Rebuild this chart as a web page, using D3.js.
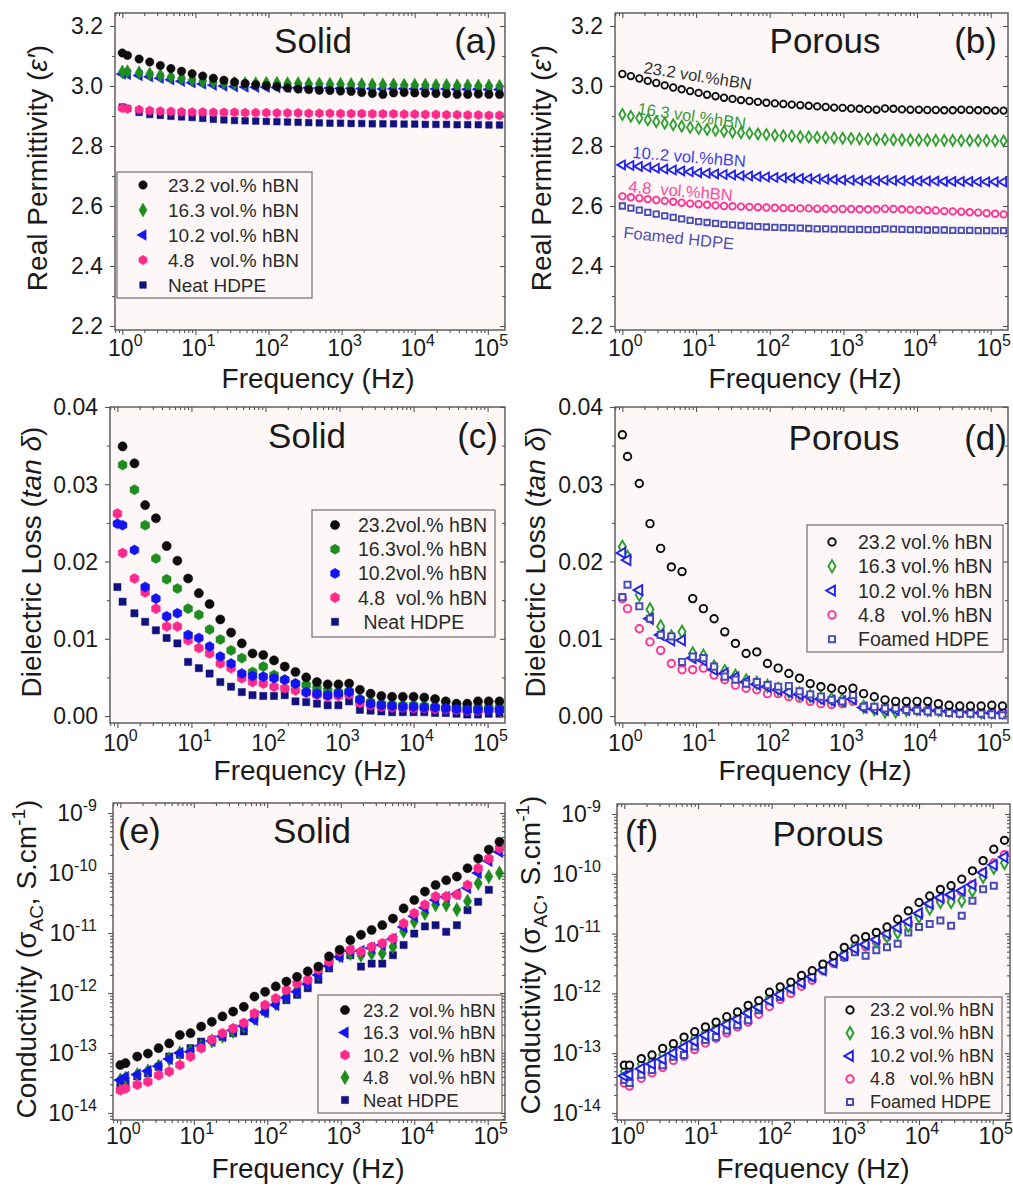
<!DOCTYPE html>
<html>
<head>
<meta charset="utf-8">
<script src="https://cdn.jsdelivr.net/npm/d3@7"></script>
<style>
  body { margin: 0; background: #fff; }
  svg { display: block; }
  text { font-family: "Liberation Sans", Arial, sans-serif; fill: #1a1a1a; }
</style>
</head>
<body>
<div id="chart"></div>
<script>
// -------------------- DATA --------------------

// measurement frequencies (Hz)
const freqs = [1, 1.175, 1.698, 2.371, 3.311, 4.624, 6.457, 9.016, 12.59, 17.58,
  24.55, 34.28, 47.86, 66.83, 93.33, 130.3, 182.0, 254.1, 354.8, 495.5,
  691.8, 966.1, 1349, 1884, 2630, 3673, 5129, 7161, 10000, 13960,
  19500, 27230, 38020, 53090, 74130, 103500, 144500];
// denser sweep used for panel (b)
const freqsB = [1, 1.303, 1.698, 2.213, 2.884, 3.758, 4.898, 6.383, 8.318, 10.84,
  14.13, 18.41, 23.99, 31.26, 40.74, 53.09, 69.18, 90.16, 117.5, 153.1,
  199.5, 260.0, 338.8, 441.6, 575.4, 749.9, 977.2, 1274, 1660, 2163,
  2818, 3673, 4786, 6237, 8128, 10590, 13800, 17990, 23440, 30550,
  39810, 51880, 67610, 88100, 114800, 149600];

// tick labels
const freqTickExps = [0, 1, 2, 3, 4, 5];
const permTicks = [2.2, 2.4, 2.6, 2.8, 3.0, 3.2];
const lossTicks = [0.00, 0.01, 0.02, 0.03, 0.04];
const condTickExps = [-14, -13, -12, -11, -10, -9];

// (a) real permittivity, solid
const permSolid232 = [3.110, 3.102, 3.090, 3.080, 3.068, 3.058, 3.049, 3.041, 3.033, 3.026,
  3.019, 3.013, 3.008, 3.004, 3.001, 2.998, 2.993, 2.990, 2.988, 2.986,
  2.985, 2.983, 2.982, 2.978, 2.975, 2.972, 2.977, 2.978, 2.977, 2.976,
  2.975, 2.974, 2.972, 2.972, 2.973, 2.972, 2.972];
const permSolid163 = [3.047, 3.048, 3.044, 3.040, 3.035, 3.030, 3.025, 3.020, 3.016, 3.013,
  3.011, 3.009, 3.008, 3.008, 3.009, 3.009, 3.008, 3.008, 3.007, 3.007,
  3.006, 3.006, 3.005, 3.005, 3.004, 3.004, 3.004, 3.003, 3.003, 3.003,
  3.002, 3.002, 3.001, 3.001, 3.000, 3.000, 2.999];
const permSolid102 = [3.040, 3.039, 3.035, 3.031, 3.026, 3.021, 3.016, 3.011, 3.007, 3.003,
  3.000, 2.998, 2.997, 2.996, 2.996, 2.995, 2.995, 2.994, 2.994, 2.993,
  2.993, 2.992, 2.992, 2.991, 2.991, 2.990, 2.991, 2.991, 2.990, 2.990,
  2.990, 2.990, 2.989, 2.989, 2.989, 2.988, 2.988];
const permSolid48 = [2.926, 2.924, 2.921, 2.918, 2.916, 2.915, 2.914, 2.913, 2.913, 2.912,
  2.912, 2.912, 2.911, 2.911, 2.911, 2.910, 2.910, 2.910, 2.909, 2.909,
  2.909, 2.908, 2.908, 2.908, 2.907, 2.907, 2.907, 2.906, 2.906, 2.905,
  2.905, 2.904, 2.904, 2.903, 2.903, 2.902, 2.902];
const permSolidNeat = [2.930, 2.925, 2.912, 2.905, 2.902, 2.899, 2.897, 2.895, 2.892, 2.889,
  2.887, 2.885, 2.884, 2.883, 2.882, 2.881, 2.880, 2.879, 2.878, 2.877,
  2.876, 2.876, 2.875, 2.875, 2.874, 2.874, 2.874, 2.873, 2.873, 2.872,
  2.872, 2.872, 2.871, 2.871, 2.871, 2.870, 2.870];

// (b) real permittivity, porous
const permPorous232 = [3.040, 3.033, 3.025, 3.017, 3.010, 3.002, 2.995, 2.989, 2.983, 2.977,
  2.971, 2.966, 2.961, 2.957, 2.953, 2.950, 2.947, 2.944, 2.942, 2.940,
  2.938, 2.936, 2.934, 2.932, 2.930, 2.928, 2.927, 2.925, 2.924, 2.922,
  2.921, 2.925, 2.924, 2.922, 2.921, 2.921, 2.920, 2.920, 2.919, 2.919,
  2.921, 2.920, 2.919, 2.919, 2.918, 2.918];
const permPorous163 = [2.905, 2.899, 2.893, 2.887, 2.881, 2.876, 2.871, 2.866, 2.862, 2.858,
  2.855, 2.852, 2.849, 2.846, 2.844, 2.842, 2.840, 2.838, 2.836, 2.834,
  2.833, 2.831, 2.830, 2.829, 2.828, 2.827, 2.826, 2.825, 2.824, 2.823,
  2.822, 2.822, 2.821, 2.821, 2.820, 2.820, 2.820, 2.819, 2.819, 2.819,
  2.818, 2.818, 2.818, 2.818, 2.817, 2.817];
const permPorous102 = [2.737, 2.735, 2.732, 2.729, 2.726, 2.723, 2.720, 2.717, 2.714, 2.711,
  2.709, 2.707, 2.705, 2.703, 2.701, 2.700, 2.698, 2.697, 2.695, 2.694,
  2.693, 2.692, 2.691, 2.690, 2.689, 2.688, 2.687, 2.686, 2.685, 2.685,
  2.684, 2.686, 2.685, 2.684, 2.684, 2.683, 2.683, 2.683, 2.682, 2.682,
  2.682, 2.682, 2.681, 2.681, 2.681, 2.680];
const permPorous48 = [2.632, 2.629, 2.626, 2.623, 2.620, 2.617, 2.614, 2.611, 2.608, 2.606,
  2.604, 2.602, 2.600, 2.599, 2.598, 2.597, 2.596, 2.595, 2.594, 2.593,
  2.593, 2.592, 2.592, 2.591, 2.591, 2.590, 2.590, 2.590, 2.589, 2.589,
  2.589, 2.591, 2.590, 2.589, 2.588, 2.587, 2.586, 2.585, 2.583, 2.582,
  2.581, 2.579, 2.578, 2.576, 2.574, 2.572];
const permPorousFoam = [2.600, 2.593, 2.586, 2.579, 2.573, 2.567, 2.562, 2.557, 2.552, 2.548,
  2.545, 2.542, 2.539, 2.537, 2.535, 2.533, 2.531, 2.530, 2.529, 2.528,
  2.527, 2.526, 2.525, 2.524, 2.524, 2.523, 2.523, 2.522, 2.522, 2.521,
  2.521, 2.524, 2.523, 2.522, 2.521, 2.521, 2.520, 2.520, 2.520, 2.519,
  2.519, 2.519, 2.518, 2.518, 2.518, 2.518];

// (c) dielectric loss, solid
const lossSolid232 = [null, .0349, .0327, .0273, .0256, .0220, .0201, .0178, .0159, .0145,
  .0125, .0108, .0094, .0081, .0079, .0072, .0064, .0057, .0050, .0044,
  .0041, .0041, .0042, .0034, .0029, .0026, .0025, .0025, .0025, .0024,
  .0022, .0019, .0016, .0016, .0019, .0019, .0019];
const lossSolid163 = [null, .0325, .0293, .0247, .0204, .0177, .0165, .0139, .0131, .0112,
  .0099, .0085, .0075, .0057, .0064, .0053, .0047, .0042, .0040, .0036,
  .0033, .0031, .0032, .0022, .0018, .0016, .0015, .0014, .0014, .0013,
  .0012, .0011, .0010, .0010, .0011, .0011, .0011];
const lossSolid102 = [.0249, .0247, .0215, .0167, .0152, .0129, .0133, .0105, .0101, .0090,
  .0077, .0068, .0055, .0052, .0051, .0049, .0047, .0042, .0031, .0029,
  .0027, .0029, .0031, .0021, .0016, .0014, .0013, .0012, .0012, .0011,
  .0011, .0010, .0009, .0008, .0008, .0008, .0008];
const lossSolid48 = [.0262, .0211, .0178, .0160, .0139, .0116, .0116, .0098, .0088, .0081,
  .0068, .0062, .0049, .0044, .0042, .0038, .0036, .0033, .0030, .0027,
  .0025, .0026, .0028, .0017, .0014, .0012, .0011, .0011, .0010, .0010,
  .0009, .0009, .0008, .0007, .0007, .0008, .0008];
const lossSolidNeat = [.0167, .0148, .0133, .0122, .0111, .0101, .0094, .0070, .0062, .0055,
  .0044, .0038, .0031, .0027, .0026, .0026, .0027, .0019, .0018, .0016,
  .0014, .0014, .0019, .0008, .0007, .0006, .0005, .0005, .0005, .0005,
  .0004, .0004, .0003, .0002, .0002, .0003, .0003];

// (d) dielectric loss, porous
const lossPorous232 = [.0364, .0336, .0301, .0249, .0217, .0193, .0187, .0152, .0139, .0126,
  .0109, .0094, .0081, .0083, .0068, .0062, .0055, .0049, .0042, .0038,
  .0036, .0034, .0036, .0029, .0025, .0021, .0019, .0019, .0019, .0019,
  .0016, .0014, .0013, .0013, .0013, .0014, .0013];
const lossPorous163 = [.0219, .0206, .0157, .0138, .0116, .0103, .0109, .0081, .0078, .0064,
  .0058, .0052, .0046, .0043, .0039, .0035, .0032, .0029, .0026, .0024,
  .0022, .0021, .0024, .0012, .0009, .0006, .0006, .0008, .0009, .0008,
  .0008, .0007, .0006, .0006, .0005, .0005, .0005];
const lossPorous102 = [.0211, .0202, .0163, .0126, .0105, .0098, .0098, .0075, .0072, .0060,
  .0055, .0050, .0044, .0041, .0038, .0034, .0031, .0028, .0025, .0022,
  .0020, .0019, .0022, .0011, .0009, .0008, .0008, .0008, .0008, .0007,
  .0007, .0006, .0006, .0005, .0004, .0004, .0004];
const lossPorous48 = [.0152, .0139, .0113, .0096, .0085, .0068, .0060, .0060, .0062, .0053,
  .0047, .0040, .0036, .0034, .0029, .0029, .0025, .0023, .0019, .0016,
  .0015, .0016, .0019, .0012, .0010, .0009, .0008, .0009, .0009, .0008,
  .0008, .0007, .0006, .0006, .0006, .0005, .0005];
const lossPorousFoam = [.0154, .0170, .0142, .0126, .0105, .0103, .0070, .0077, .0075, .0064,
  .0051, .0047, .0042, .0044, .0040, .0038, .0039, .0032, .0028, .0025,
  .0021, .0019, .0027, .0012, .0012, .0010, .0010, .0008, .0007, .0006,
  .0006, .0004, .0003, .0003, .0003, .0002, .0001];

// (e) AC conductivity, solid: log10 of sigma_AC in S/cm
const condSolid232 = [-13.20, -13.17, -13.06, -13.01, -12.92, -12.84, -12.70, -12.67, -12.56, -12.48,
  -12.39, -12.31, -12.23, -12.06, -11.98, -11.89, -11.81, -11.73, -11.64, -11.56,
  -11.39, -11.28, -11.12, -11.03, -10.95, -10.87, -10.76, -10.59, -10.45, -10.31,
  -10.20, -10.12, -10.06, -9.92, -9.76, -9.61, -9.48];
const condSolid163 = [-13.45, -13.40, -13.36, -13.30, -13.22, -13.10, -13.00, -12.98, -12.88, -12.80,
  -12.72, -12.62, -12.55, -12.45, -12.32, -12.20, -12.08, -11.98, -11.85, -11.70,
  -11.55, -11.40, -11.30, -11.30, -11.25, -11.20, -11.10, -10.90, -10.72, -10.58,
  -10.45, -10.40, -10.35, -10.25, -10.00, -9.80, -9.65];
const condSolid102 = [-13.62, -13.59, -13.53, -13.48, -13.37, -13.31, -13.20, -13.06, -12.92, -12.78,
  -12.67, -12.59, -12.50, -12.34, -12.20, -12.09, -11.95, -11.84, -11.78, -11.61,
  -11.48, -11.31, -11.28, -11.31, -11.23, -11.17, -11.09, -10.84, -10.67, -10.53,
  -10.39, -10.39, -10.36, -10.20, -9.92, -9.76, -9.59];
const condSolid48 = [-13.45, -13.42, -13.36, -13.30, -13.22, -13.10, -13.00, -12.97, -12.88, -12.80,
  -12.72, -12.64, -12.55, -12.42, -12.30, -12.18, -12.05, -11.95, -11.82, -11.68,
  -11.52, -11.38, -11.34, -11.37, -11.34, -11.34, -11.23, -10.97, -10.81, -10.67,
  -10.53, -10.53, -10.61, -10.47, -10.17, -10.06, -10.00];
const condSolidNeat = [-13.53, -13.50, -13.39, -13.34, -13.23, -13.06, -13.03, -12.92, -12.81, -12.78,
  -12.73, -12.67, -12.64, -12.42, -12.31, -12.14, -12.12, -12.03, -11.92, -11.78,
  -11.59, -11.39, -11.37, -11.56, -11.51, -11.51, -11.37, -11.20, -11.01, -10.89,
  -10.87, -10.98, -10.87, -10.62, -10.48, -10.28, null];

// (f) AC conductivity, porous: log10 of sigma_AC in S/cm
const condPorous232 = [-13.20, -13.20, -13.09, -13.03, -12.92, -12.84, -12.73, -12.64, -12.56, -12.48,
  -12.39, -12.31, -12.20, -12.12, -11.98, -11.89, -11.81, -11.70, -11.62, -11.51,
  -11.37, -11.23, -11.09, -11.05, -10.98, -10.89, -10.76, -10.62, -10.48, -10.37,
  -10.26, -10.20, -10.09, -9.95, -9.78, -9.59, -9.44];
const condPorous163 = [-13.30, -13.28, -13.18, -13.12, -13.02, -12.94, -12.83, -12.74, -12.65, -12.56,
  -12.47, -12.39, -12.29, -12.20, -12.07, -11.97, -11.88, -11.78, -11.69, -11.58,
  -11.45, -11.32, -11.20, -11.17, -11.12, -11.05, -10.98, -10.87, -10.72, -10.58,
  -10.47, -10.47, -10.45, -10.28, -10.05, -9.90, -9.82];
const condPorous102 = [-13.38, -13.36, -13.26, -13.18, -13.10, -13.00, -12.90, -12.80, -12.70, -12.61,
  -12.52, -12.43, -12.33, -12.23, -12.12, -12.02, -11.92, -11.82, -11.72, -11.61,
  -11.48, -11.36, -11.25, -11.18, -11.10, -11.00, -10.90, -10.80, -10.66, -10.50,
  -10.40, -10.35, -10.28, -10.18, -9.98, -9.85, -9.72];
const condPorous48 = [-13.50, -13.55, -13.42, -13.33, -13.24, -13.12, -13.05, -12.94, -12.83, -12.75,
  -12.66, -12.56, -12.48, -12.35, -12.22, -12.10, -12.00, -11.88, -11.78, -11.62,
  -11.50, -11.40, -11.28, -11.22, -11.14, -11.05, -10.95, -10.82, -10.68, -10.55,
  -10.45, -10.38, -10.30, -10.18, -9.98, -9.82, -9.68];
const condPorousFoam = [-13.45, -13.50, -13.36, -13.28, -13.20, -13.06, -13.03, -12.89, -12.78, -12.73,
  -12.62, -12.53, -12.45, -12.28, -12.12, -12.06, -11.92, -11.81, -11.73, -11.56,
  -11.45, -11.39, -11.31, -11.37, -11.28, -11.23, -11.17, -10.98, -10.89, -10.84,
  -10.78, -10.87, -10.70, -10.45, -10.26, -10.20, null];

// -------------------- STYLE --------------------

const W = 1013, H = 1186;
const BG = "#fdf8f7";
const AXIS = "#555";
const C = { black: "#0d0d0d", green: "#1f8c1f", blue: "#1414f0", pink: "#ff2a8c", navy: "#12127e",
            ogreen: "#2e9e2e", oblue: "#2222ee", opink: "#ff3294", onavy: "#4a4ab6" };

// custom marker shapes
const symHex = { draw(ctx, size) {
  const r = Math.sqrt(size * 2 / (3 * Math.sqrt(3)));
  for (let k = 0; k < 6; k++) {
    const a = Math.PI / 3 * k + Math.PI / 6;
    k ? ctx.lineTo(r * Math.cos(a), r * Math.sin(a)) : ctx.moveTo(r * Math.cos(a), r * Math.sin(a));
  }
  ctx.closePath();
}};
const symLeftTri = { draw(ctx, size) {
  const s = Math.sqrt(size * 4 / Math.sqrt(3)), h = s * Math.sqrt(3) / 2;
  ctx.moveTo(-h * 2 / 3, 0); ctx.lineTo(h / 3, -s / 2); ctx.lineTo(h / 3, s / 2); ctx.closePath();
}};

const filled = (color, shape, size) => ({ fill: color, stroke: color, sw: 0.5, shape, size });
const open = (color, shape, size, sw = 1.9) => ({ fill: "#f3f6f1", stroke: color, sw, shape, size });

const xLogDomain = [Math.pow(10, -0.1), Math.pow(10, 5.235)];

const panels = [
  { left: 115, right: 505, top: 13, bottom: 330, yType: "perm", yDomain: [2.1867, 3.2433],
    ylab: { x: 47, y: 168 }, xlab: { x: 318, y: 388 }, xtOff: 26,
    title: { text: "Solid", x: 313, y: 53 }, tag: { text: "(a)", x: 497, y: 53, anchor: "end" },
    legend: { x: 117, y: 172, w: 195, h: 126, row0: 185, dy: 25, mx: 143, tx: 168, fs: 19 },
    order: [4, 3, 2, 1, 0],
    series: [
      { label: "23.2 vol.% hBN", f: freqs, v: permSolid232, ...filled(C.black, d3.symbolCircle, 56) },
      { label: "16.3 vol.% hBN", f: freqs, v: permSolid163, ...filled(C.green, d3.symbolDiamond, 56) },
      { label: "10.2 vol.% hBN", f: freqs, v: permSolid102, ...filled(C.blue, symLeftTri, 50) },
      { label: "4.8   vol.% hBN", f: freqs, v: permSolid48, ...filled(C.pink, symHex, 56) },
      { label: "Neat HDPE", f: freqs, v: permSolidNeat, ...filled(C.navy, d3.symbolSquare, 44) } ] },
  { left: 615, right: 1008, top: 13, bottom: 330, yType: "perm", yDomain: [2.1867, 3.2433],
    ylab: { x: 551, y: 168 }, xlab: { x: 805, y: 388 }, xtOff: 26,
    title: { text: "Porous", x: 825, y: 53 }, tag: { text: "(b)", x: 997, y: 53, anchor: "end" },
    order: [4, 3, 2, 1, 0],
    inline: [
      { text: "23.2 vol.%hBN", x: 643, y: 73, rot: 9, color: "#333" },
      { text: "16.3 vol.%hBN", x: 637, y: 114, rot: 8, color: "#3a9a3a" },
      { text: "10..2 vol.%hBN", x: 632, y: 158, rot: 4.5, color: "#4040e6" },
      { text: "4.8  vol.%hBN", x: 628, y: 192, rot: 5, color: "#ff4a9c" },
      { text: "Foamed HDPE", x: 623, y: 238, rot: 6, color: "#5050b4" } ],
    series: [
      { f: freqsB, v: permPorous232, ...open(C.black, d3.symbolCircle, 34, 1.8) },
      { f: freqsB, v: permPorous163, ...open(C.ogreen, d3.symbolDiamond, 34, 1.8) },
      { f: freqsB, v: permPorous102, ...open(C.oblue, symLeftTri, 34, 1.8) },
      { f: freqsB, v: permPorous48, ...open(C.opink, d3.symbolCircle, 34, 1.8) },
      { f: freqsB, v: permPorousFoam, ...open(C.onavy, d3.symbolSquare, 30, 1.8) } ] },
  { left: 110, right: 505, top: 407, bottom: 723, yType: "loss", yDomain: [-0.0009, 0.04],
    ylab: { x: 41, y: 562 }, xlab: { x: 310, y: 780 }, xtOff: 28,
    title: { text: "Solid", x: 307, y: 448 }, tag: { text: "(c)", x: 498, y: 448, anchor: "end" },
    legend: { x: 312, y: 510, w: 183, h: 127, row0: 525, dy: 24.2, mx: 335, tx: 358, fs: 19.5 },
    order: [4, 3, 1, 0, 2],
    series: [
      { label: "23.2vol.% hBN", f: freqs, v: lossSolid232, ...filled(C.black, d3.symbolCircle, 66) },
      { label: "16.3vol.% hBN", f: freqs, v: lossSolid163, ...filled(C.green, symHex, 66) },
      { label: "10.2vol.% hBN", f: freqs, v: lossSolid102, ...filled(C.blue, symHex, 66) },
      { label: "4.8  vol.% hBN", f: freqs, v: lossSolid48, ...filled(C.pink, symHex, 66) },
      { label: " Neat HDPE", f: freqs, v: lossSolidNeat, ...filled(C.navy, d3.symbolSquare, 52) } ] },
  { left: 615, right: 1008, top: 407, bottom: 723, yType: "loss", yDomain: [-0.0009, 0.04],
    ylab: { x: 545, y: 562 }, xlab: { x: 815, y: 780 }, xtOff: 28,
    title: { text: "Porous", x: 844, y: 450 }, tag: { text: "(d)", x: 1007, y: 450, anchor: "end" },
    legend: { x: 807, y: 525, w: 196, h: 127, row0: 542, dy: 24.3, mx: 832, tx: 858, fs: 19.5 },
    order: [3, 1, 2, 4, 0],
    series: [
      { label: "23.2 vol.% hBN", f: freqs, v: lossPorous232, ...open(C.black, d3.symbolCircle, 44) },
      { label: "16.3 vol.% hBN", f: freqs, v: lossPorous163, ...open(C.ogreen, d3.symbolDiamond, 44) },
      { label: "10.2 vol.% hBN", f: freqs, v: lossPorous102, ...open(C.oblue, symLeftTri, 44) },
      { label: "4.8   vol.% hBN", f: freqs, v: lossPorous48, ...open(C.opink, d3.symbolCircle, 44) },
      { label: "Foamed HDPE", f: freqs, v: lossPorousFoam, ...open(C.onavy, d3.symbolSquare, 38) } ] },
  { left: 113, right: 505, top: 803, bottom: 1120, yType: "cond", yDomain: [Math.pow(10, -14.117), Math.pow(10, -8.833)],
    ylab: { x: 36, y: 959 }, xlab: { x: 308, y: 1178 }, xtOff: 24,
    title: { text: "Solid", x: 312, y: 843 }, tag: { text: "(e)", x: 118, y: 843, anchor: "start" },
    legend: { x: 318, y: 995, w: 184, h: 118, row0: 1010, dy: 22.5, mx: 345, tx: 363, fs: 18.5 },
    order: [4, 3, 1, 2, 0],
    series: [
      { label: "23.2  vol.% hBN", f: freqs, v: condSolid232, ...filled(C.black, d3.symbolCircle, 66) },
      { label: "16.3  vol.% hBN", f: freqs, v: condSolid163, ...filled(C.blue, symLeftTri, 56) },
      { label: "10.2  vol.% hBN", f: freqs, v: condSolid102, ...filled(C.pink, symHex, 66) },
      { label: "4.8    vol.% hBN", f: freqs, v: condSolid48, ...filled(C.green, d3.symbolDiamond, 60) },
      { label: "Neat HDPE", f: freqs, v: condSolidNeat, ...filled(C.navy, d3.symbolSquare, 52) } ] },
  { left: 617, right: 1010, top: 804, bottom: 1120, yType: "cond", yDomain: [Math.pow(10, -14.117), Math.pow(10, -8.833)],
    ylab: { x: 540, y: 955 }, xlab: { x: 813, y: 1178 }, xtOff: 24,
    title: { text: "Porous", x: 828, y: 846 }, tag: { text: "(f)", x: 625, y: 845, anchor: "start" },
    legend: { x: 825, y: 997, w: 177, h: 116, row0: 1010, dy: 23, mx: 850, tx: 870, fs: 18 },
    order: [3, 4, 1, 2, 0],
    series: [
      { label: "23.2 vol.% hBN", f: freqs, v: condPorous232, ...open(C.black, d3.symbolCircle, 42, 2) },
      { label: "16.3 vol.% hBN", f: freqs, v: condPorous163, ...open(C.ogreen, d3.symbolDiamond, 42, 2) },
      { label: "10.2 vol.% hBN", f: freqs, v: condPorous102, ...open(C.oblue, symLeftTri, 42, 2) },
      { label: "4.8   vol.% hBN", f: freqs, v: condPorous48, ...open(C.opink, d3.symbolCircle, 42, 2) },
      { label: "Foamed HDPE", f: freqs, v: condPorousFoam, ...open(C.onavy, d3.symbolSquare, 36, 2) } ] }
];

// -------------------- DRAWING --------------------

const svg = d3.select("#chart").append("svg")
  .attr("width", W).attr("height", H)
  .attr("viewBox", [0, 0, W, H]);

function styleMarker(sel, s) {
  sel.attr("fill", s.fill).attr("stroke", s.stroke).attr("stroke-width", s.sw);
}

function supLabel(text, base, exp, baseSize, supSize) {
  text.append("tspan").attr("font-size", baseSize).text(base);
  text.append("tspan").attr("font-size", supSize).attr("dy", -baseSize * 0.42).text(exp);
}

function drawPanel(p, idx) {
  const g = svg.append("g");
  const x = d3.scaleLog().domain(xLogDomain).range([p.left, p.right]);
  const y = (p.yType === "cond" ? d3.scaleLog() : d3.scaleLinear()).domain(p.yDomain).range([p.bottom, p.top]);
  const yv = p.yType === "cond" ? (v => y(Math.pow(10, v))) : (v => y(v));

  g.append("rect")
    .attr("x", p.left).attr("y", p.top)
    .attr("width", p.right - p.left).attr("height", p.bottom - p.top)
    .attr("fill", BG);

  const clipId = "clip" + idx;
  g.append("clipPath").attr("id", clipId).append("rect")
    .attr("x", p.left).attr("y", p.top)
    .attr("width", p.right - p.left).attr("height", p.bottom - p.top);

  // titles inside the frame
  g.append("text").attr("x", p.title.x).attr("y", p.title.y)
    .attr("text-anchor", "middle").attr("font-size", 35).text(p.title.text);
  g.append("text").attr("x", p.tag.x).attr("y", p.tag.y)
    .attr("text-anchor", p.tag.anchor).attr("font-size", 35).text(p.tag.text);

  // inline curve labels (panel b)
  if (p.inline) {
    g.selectAll("text.inl").data(p.inline).join("text")
      .attr("class", "inl")
      .attr("transform", d => `translate(${d.x},${d.y}) rotate(${d.rot})`)
      .attr("font-size", 16.5)
      .style("fill", d => d.color)
      .style("white-space", "pre")
      .text(d => d.text);
  }

  // markers
  const pg = g.append("g").attr("clip-path", `url(#${clipId})`);
  for (const si of p.order) {
    const s = p.series[si];
    const pts = s.v.map((v, i) => ({ f: s.f[i], v })).filter(d => d.v !== null);
    pg.append("g").selectAll("path").data(pts).join("path")
      .attr("transform", d => `translate(${x(d.f)},${yv(d.v)})`)
      .attr("d", d3.symbol(s.shape, s.size))
      .call(styleMarker, s);
  }

  // axes
  const xMajor = freqTickExps.map(e => Math.pow(10, e));
  const xMinor = [];
  for (let e = -1; e <= 5; e++) for (let m = 2; m <= 9; m++) {
    const v = m * Math.pow(10, e);
    if (v >= xLogDomain[0] && v <= xLogDomain[1]) xMinor.push(v);
  }
  let yMajor, yMinor;
  if (p.yType === "perm") { yMajor = permTicks; yMinor = [2.3, 2.5, 2.7, 2.9, 3.1]; }
  else if (p.yType === "loss") { yMajor = lossTicks; yMinor = [0.005, 0.015, 0.025, 0.035]; }
  else {
    yMajor = condTickExps.map(e => Math.pow(10, e));
    yMinor = [];
    for (let e = -15; e <= -9; e++) for (let m = 2; m <= 9; m++) {
      const v = m * Math.pow(10, e);
      if (v >= p.yDomain[0] && v <= p.yDomain[1]) yMinor.push(v);
    }
  }

  const axisStyle = a => a.call(s => s.select(".domain").remove())
    .call(s => s.selectAll("line").attr("stroke", AXIS).attr("stroke-width", 1.1));

  g.append("g").attr("transform", `translate(0,${p.bottom})`)
    .call(d3.axisBottom(x).tickValues(xMajor).tickSize(5).tickFormat("")).call(axisStyle);
  g.append("g").attr("transform", `translate(0,${p.bottom})`)
    .call(d3.axisBottom(x).tickValues(xMinor).tickSize(3).tickFormat("")).call(axisStyle);
  g.append("g").attr("transform", `translate(0,${p.top})`)
    .call(d3.axisTop(x).tickValues(xMajor).tickSize(-5).tickFormat("")).call(axisStyle);
  g.append("g").attr("transform", `translate(0,${p.top})`)
    .call(d3.axisTop(x).tickValues(xMinor).tickSize(-3).tickFormat("")).call(axisStyle);

  g.append("g").attr("transform", `translate(${p.left},0)`)
    .call(d3.axisLeft(y).tickValues(yMajor).tickSize(5).tickFormat("")).call(axisStyle);
  g.append("g").attr("transform", `translate(${p.left},0)`)
    .call(d3.axisLeft(y).tickValues(yMinor).tickSize(3).tickFormat("")).call(axisStyle);
  g.append("g").attr("transform", `translate(${p.right},0)`)
    .call(d3.axisRight(y).tickValues(yMajor).tickSize(-5).tickFormat("")).call(axisStyle);
  g.append("g").attr("transform", `translate(${p.right},0)`)
    .call(d3.axisRight(y).tickValues(yMinor).tickSize(-3).tickFormat("")).call(axisStyle);

  // frame
  g.append("rect")
    .attr("x", p.left).attr("y", p.top)
    .attr("width", p.right - p.left).attr("height", p.bottom - p.top)
    .attr("fill", "none").attr("stroke", AXIS).attr("stroke-width", 1.4);

  // x tick labels 10^n
  g.selectAll("text.xt").data(freqTickExps).join("text")
    .attr("class", "xt")
    .attr("x", e => x(Math.pow(10, e)) + 3).attr("y", p.bottom + p.xtOff)
    .attr("text-anchor", "middle")
    .each(function (e) { supLabel(d3.select(this), "10", String(e), 23, 16); });

  // y tick labels
  if (p.yType === "cond") {
    g.selectAll("text.yt").data(condTickExps).join("text")
      .attr("class", "yt")
      .attr("x", p.left - 16).attr("y", e => y(Math.pow(10, e)) + 8)
      .attr("text-anchor", "end")
      .each(function (e) { supLabel(d3.select(this), "10", String(e), 23, 16); });
  } else {
    const fmt = p.yType === "perm" ? d3.format(".1f") : d3.format(".2f");
    g.selectAll("text.yt").data(yMajor).join("text")
      .attr("class", "yt")
      .attr("x", p.left - 12).attr("y", v => y(v)).attr("dy", "0.36em")
      .attr("text-anchor", "end").attr("font-size", 23)
      .text(v => fmt(v));
  }

  // axis titles
  g.append("text").attr("x", p.xlab.x).attr("y", p.xlab.y)
    .attr("text-anchor", "middle").attr("font-size", 28).text("Frequency (Hz)");

  const yl = g.append("text")
    .attr("transform", `translate(${p.ylab.x},${p.ylab.y}) rotate(-90)`)
    .attr("text-anchor", "middle").attr("font-size", 28);
  if (p.yType === "perm") {
    yl.append("tspan").text("Real Permittivity (");
    yl.append("tspan").attr("font-style", "italic").text("ε′");
    yl.append("tspan").text(")");
  } else if (p.yType === "loss") {
    yl.append("tspan").text("Dielectric Loss (");
    yl.append("tspan").attr("font-style", "italic").text("tan δ");
    yl.append("tspan").text(")");
  } else {
    yl.append("tspan").text("Conductivity (σ");
    yl.append("tspan").attr("font-size", 19).attr("dy", 7).text("AC");
    yl.append("tspan").attr("dy", -7).text(", S.cm");
    yl.append("tspan").attr("font-size", 19).attr("dy", -11).text("-1");
    yl.append("tspan").attr("dy", 11).text(")");
  }

  // legend box
  if (p.legend) {
    const L = p.legend;
    g.append("rect").attr("x", L.x).attr("y", L.y).attr("width", L.w).attr("height", L.h)
      .attr("fill", BG).attr("stroke", "#7a7a7a").attr("stroke-width", 1.3);
    p.series.forEach((s, i) => {
      const cy = L.row0 + i * L.dy;
      g.append("path").attr("transform", `translate(${L.mx},${cy})`)
        .attr("d", d3.symbol(s.shape, s.size)()).call(styleMarker, s);
      g.append("text").attr("x", L.tx).attr("y", cy).attr("dy", "0.36em")
        .attr("font-size", L.fs).style("white-space", "pre").style("fill", "#2a2a2a")
        .text(s.label);
    });
  }
}

panels.forEach(drawPanel);
</script>
</body>
</html>
